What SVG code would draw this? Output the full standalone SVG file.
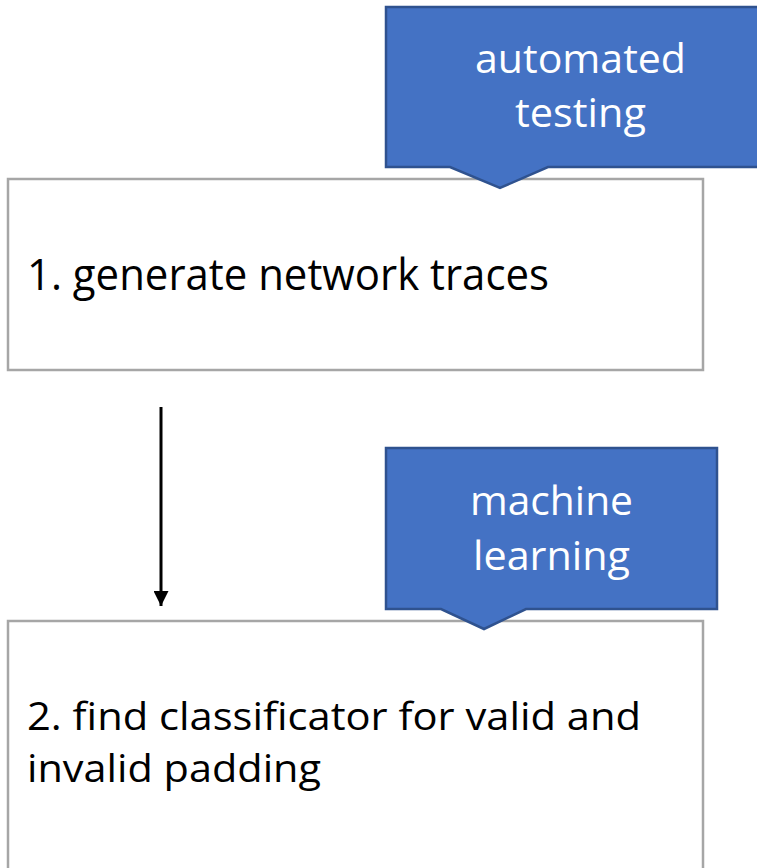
<svg xmlns="http://www.w3.org/2000/svg" width="757" height="868" viewBox="0 0 757 868">
  <defs>
    <style>
      .step { fill: #ffffff; stroke: #a6a6a6; stroke-width: 2.5; }
      .callout { fill: #4472c4; stroke: #2f528f; stroke-width: 2.5; stroke-linejoin: miter; }
      .label { font-family: "Open Sans", "Liberation Sans", sans-serif; fill: #000000; }
      .tag { font-family: "Open Sans", "Liberation Sans", sans-serif; fill: #ffffff; }
      .link { stroke: #000000; stroke-width: 3; fill: none; }
    </style>
    <marker id="arrowhead" viewBox="0 0 10 10" refX="10" refY="5" markerWidth="5" markerHeight="5" markerUnits="strokeWidth" orient="auto">
      <path d="M0,0 L10,5 L0,10 Z" fill="#000000"/>
    </marker>
  </defs>
  <rect width="757" height="868" fill="#ffffff"/>

  <!-- step 1 -->
  <g id="step1">
    <rect class="step" x="8" y="179" width="695" height="191"/>
    <text class="label" x="27" y="290" font-size="43" textLength="522" lengthAdjust="spacingAndGlyphs">1. generate network traces</text>
  </g>

  <!-- step 2 -->
  <g id="step2">
    <rect class="step" x="8" y="621" width="695" height="260"/>
    <text class="label" x="27" y="730" font-size="38" textLength="614" lengthAdjust="spacingAndGlyphs">2. find classificator for valid and</text>
    <text class="label" x="27" y="782" font-size="38" textLength="294" lengthAdjust="spacingAndGlyphs">invalid padding</text>
  </g>

  <!-- callout: automated testing -->
  <g id="callout-testing">
    <path class="callout" d="M386,7 L775,7 L775,167 L548,167 L500,188 L450,167 L386,167 Z"/>
    <text class="tag" x="475" y="73" font-size="40" textLength="211" lengthAdjust="spacingAndGlyphs">automated</text>
    <text class="tag" x="515" y="127" font-size="40" textLength="131" lengthAdjust="spacingAndGlyphs">testing</text>
  </g>

  <!-- callout: machine learning -->
  <g id="callout-learning">
    <path class="callout" d="M386,448 L717,448 L717,609 L526,609 L484,629 L441,609 L386,609 Z"/>
    <text class="tag" x="470" y="515" font-size="40" textLength="163" lengthAdjust="spacingAndGlyphs">machine</text>
    <text class="tag" x="473" y="570" font-size="40" textLength="157" lengthAdjust="spacingAndGlyphs">learning</text>
  </g>

  <!-- connectors -->
  <g id="connectors">
    <line class="link" x1="161" y1="407" x2="161" y2="606" marker-end="url(#arrowhead)"/>
  </g>
</svg>
